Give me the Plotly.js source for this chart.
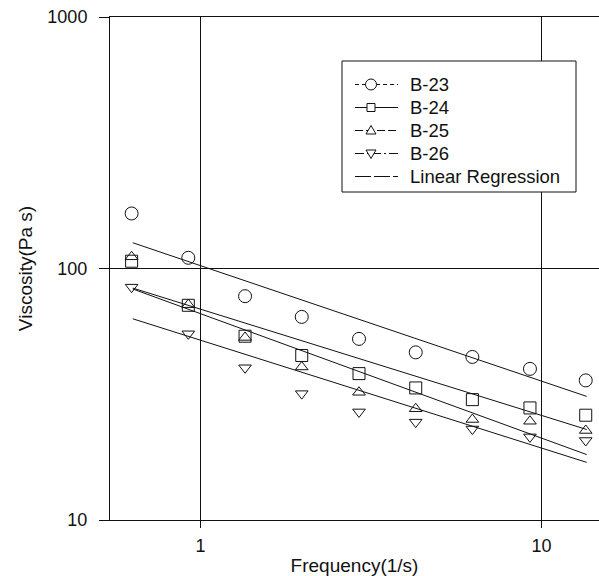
<!DOCTYPE html>
<html>
<head>
<meta charset="utf-8">
<script src="https://cdn.plot.ly/plotly-3.0.1.min.js"></script>
<style>html,body{margin:0;padding:0;background:#fff;overflow:hidden}</style>
</head>
<body>
<div id="chart" style="width:599px;height:576px"></div>
<script>
// Frequency (1/s)
const freq = [0.628, 0.921, 1.351, 1.981, 2.916, 4.277, 6.27, 9.25, 13.48];
// Viscosity (Pa s)
const b23 = [165.5, 110.3, 77.6, 64.2, 52.5, 46.4, 44.5, 39.9, 35.9];
const b24 = [106.9, 71.4, 53.8, 45.1, 38.2, 33.5, 30.1, 27.9, 26.1];
const b25 = [111.3, 71.8, 53.2, 40.6, 32.2, 27.7, 25.1, 24.7, 22.7];
const b26 = [84.3, 55.0, 40.3, 31.8, 26.9, 24.5, 23.0, 21.4, 20.7];
// Linear regression lines (start / end values)
const regFreq = [0.633, 13.57];
const reg23 = [126.6, 31.0];
const reg24 = [83.6, 22.9];
const reg25 = [82.9, 18.2];
const reg26 = [63.1, 16.95];
const seriesNames = ['B-23', 'B-24', 'B-25', 'B-26'];
const legendNames = ['B-23', 'B-24', 'B-25', 'B-26', 'Linear Regression'];
const xTicks = [1, 10];
const yTicks = [10, 100, 1000];

const ink = '#111';
const FONT = 'Liberation Sans, Arial, sans-serif';
const symbols = ['circle-open', 'square-open', 'triangle-up-open', 'triangle-down-open'];
const sizes = [13, 12, 11, 11];
const vals = [b23, b24, b25, b26];
const regs = [reg23, reg24, reg25, reg26];

const M = {l: 110, r: 0, t: 17, b: 56};
const W = 599, H = 576;
const PW = W - M.l - M.r, PH = H - M.t - M.b;
const px = function (x) { return (x - M.l) / PW; };
const py = function (y) { return (H - M.b - y) / PH; };

const traces = [];
regs.forEach(function (r) {
  traces.push({x: regFreq, y: r, mode: 'lines', type: 'scatter', showlegend: false,
    line: {color: ink, width: 1}, hoverinfo: 'skip'});
});
vals.forEach(function (v, i) {
  traces.push({x: freq, y: v, mode: 'markers', type: 'scatter', name: seriesNames[i],
    showlegend: false,
    marker: {symbol: symbols[i], size: sizes[i], color: ink, line: {color: ink, width: 1}}});
});

// ---- custom legend (box, line samples, symbols, labels) ----
const shapes = [];
const annotations = [];
shapes.push({type: 'rect', xref: 'paper', yref: 'paper', layer: 'above',
  x0: px(342), x1: px(576), y0: py(192), y1: py(61),
  fillcolor: '#fff', line: {color: ink, width: 1}});
const rowY = [84.5, 107.5, 130.5, 153.5, 176.5];
const legDash = ['4px,3px', 'solid', '8px,3px', '9px,3px,2px,3px', '16px,3px'];
const legMarkerPaths = [
  null,
  'M-4,-4 L4,-4 L4,4 L-4,4 Z',
  'M-5,-3.5 L5,-3.5 L0,5 Z',
  'M-5,3.5 L5,3.5 L0,-5 Z',
  null
];
legendNames.forEach(function (name, i) {
  const yy = py(rowY[i]);
  shapes.push({type: 'line', xref: 'paper', yref: 'paper', layer: 'above',
    x0: px(355), x1: px(398), y0: yy, y1: yy,
    line: {color: ink, width: 1, dash: legDash[i]}});
  if (i === 0) {
    shapes.push({type: 'circle', xref: 'paper', yref: 'paper', layer: 'above',
      xsizemode: 'pixel', ysizemode: 'pixel', xanchor: px(371), yanchor: yy,
      x0: -5.5, x1: 5.5, y0: -5.5, y1: 5.5,
      fillcolor: '#fff', line: {color: ink, width: 1}});
  } else if (legMarkerPaths[i]) {
    shapes.push({type: 'path', xref: 'paper', yref: 'paper', layer: 'above',
      xsizemode: 'pixel', ysizemode: 'pixel', xanchor: px(371), yanchor: yy,
      path: legMarkerPaths[i],
      fillcolor: '#fff', line: {color: ink, width: 1}});
  }
  annotations.push({xref: 'paper', yref: 'paper', x: px(408), y: yy,
    xanchor: 'left', yanchor: 'middle', showarrow: false, text: name,
    font: {family: FONT, size: 18.5, color: ink}});
});

const layout = {
  width: W, height: H,
  margin: M,
  paper_bgcolor: '#fff', plot_bgcolor: '#fff',
  font: {family: FONT, size: 18, color: ink},
  showlegend: false,
  shapes: shapes,
  annotations: annotations,
  xaxis: {type: 'log', range: [-0.2654, 1.1686],
    tickvals: xTicks, ticktext: xTicks.map(String),
    ticks: 'outside', ticklen: 7, tickcolor: ink, tickwidth: 1,
    showgrid: true, gridcolor: ink, gridwidth: 1,
    showline: true, linecolor: ink, linewidth: 1, mirror: true,
    zeroline: false, ticklabelstandoff: 2,
    tickfont: {family: FONT, size: 18, color: ink},
    title: {text: 'Frequency(1/s)', font: {family: FONT, size: 19, color: ink}, standoff: 7}},
  yaxis: {type: 'log', range: [1, 3],
    tickvals: yTicks, ticktext: yTicks.map(String),
    ticks: 'outside', ticklen: 10, tickcolor: ink, tickwidth: 1,
    showgrid: true, gridcolor: ink, gridwidth: 1,
    showline: true, linecolor: ink, linewidth: 1,
    zeroline: false, ticklabelstandoff: 8,
    tickfont: {family: FONT, size: 18, color: ink},
    title: {text: 'Viscosity(Pa s)', font: {family: FONT, size: 19, color: ink}, standoff: 9}}
};

Plotly.newPlot('chart', traces, layout, {displayModeBar: false, staticPlot: true});
</script>
</body>
</html>
